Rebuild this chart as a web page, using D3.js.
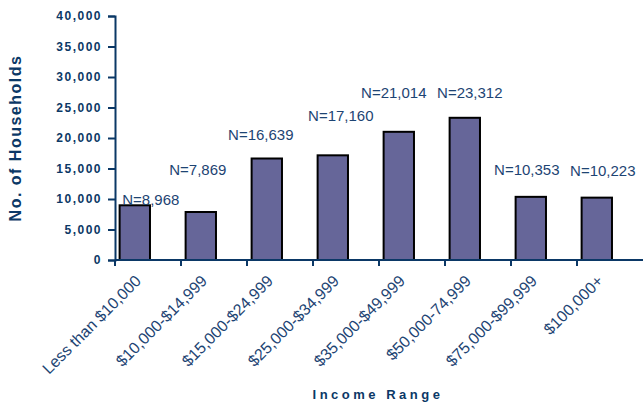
<!DOCTYPE html>
<html>
<head>
<meta charset="utf-8">
<script src="https://cdn.jsdelivr.net/npm/d3@7"></script>
<style>
  body { margin: 0; background: #fff; }
  text { font-family: Arial, "Liberation Sans", sans-serif; }
</style>
</head>
<body>
<svg id="chart" width="643" height="405"></svg>
<script>
// data
var incomeRanges = ["Less than $10,000", "$10,000-$14,999", "$15,000-$24,999", "$25,000-$34,999",
                    "$35,000-$49,999", "$50,000-74,999", "$75,000-$99,999", "$100,000+"];
var households = [8968, 7869, 16639, 17160, 21014, 23312, 10353, 10223];
var yTicks = [0, 5000, 10000, 15000, 20000, 25000, 30000, 35000, 40000];

// label nudges (px, from top centre of each bar) - they were placed by hand in the original
var labelDx = [16, -3, -6, 8, -5, 5, -4, 6];
var labelDy = [0, -37, -19, -34, -34, -20, -22, -22];

var navy = "#0b3866", labelCol = "#1d4473", barFill = "#666699";

var svg = d3.select("#chart");
// note: "top" is taken by window.top, so plot edges get their own names
var plotL = 115, plotR = 643, plotT = 16, plotB = 260;

var x = d3.scaleBand().domain(incomeRanges).range([plotL, plotR]).padding(0);
var y = d3.scaleLinear().domain([0, 40000]).range([plotB, plotT]);
var bw = x.bandwidth();

/*
    bars
*/
svg.selectAll("rect.bar")
    .data(households)
    .enter().append("rect")
    .attr("class", "bar")
    .attr("x", function(d, i){ return x(incomeRanges[i]) + bw * 0.07 })
    .attr("width", bw * 0.46)
    .attr("y", function(d){ return y(d) })
    .attr("height", function(d){ return y(0) - y(d) })
    .attr("fill", barFill)
    .attr("stroke", "#000")
    .attr("stroke-width", 2)

/*
    y axis
*/
var yAxis = svg.append("g")
    .attr("transform", "translate(" + plotL + ",0)")
    .call(d3.axisLeft(y).tickValues(yTicks).tickSize(7).tickFormat(d3.format(",")))
yAxis.select(".domain").attr("stroke", navy).attr("stroke-width", 2)
yAxis.selectAll(".tick line").attr("stroke", navy).attr("stroke-width", 2)
yAxis.selectAll(".tick text")
    .attr("x", -13)
    .attr("fill", navy)
    .style("font-size", "12px")
    .style("font-weight", "bold")
    .style("letter-spacing", "1.5px")

/*
    x axis - ticks sit on the band edges
*/
var xAxis = svg.append("g")
xAxis.append("line")
    .attr("x1", plotL).attr("x2", plotR)
    .attr("y1", y(0)).attr("y2", y(0))
    .attr("stroke", navy).attr("stroke-width", 2)
xAxis.selectAll("line.tk")
    .data(incomeRanges)
    .enter().append("line")
    .attr("class", "tk")
    .attr("x1", function(d){ return x(d) }).attr("x2", function(d){ return x(d) })
    .attr("y1", y(0)).attr("y2", y(0) + 6)
    .attr("stroke", navy).attr("stroke-width", 2)
xAxis.selectAll("text")
    .data(incomeRanges)
    .enter().append("text")
    .attr("transform", function(d){
        return "translate(" + (x(d) + bw * 0.41) + "," + (y(0) + 22) + ") rotate(-45)"
    })
    .attr("text-anchor", "end")
    .attr("fill", labelCol)
    .style("font-size", "16px")
    .text(function(d){ return d })

/*
    N= labels
*/
svg.selectAll("text.nlab")
    .data(households)
    .enter().append("text")
    .attr("class", "nlab")
    .attr("x", function(d, i){ return x(incomeRanges[i]) + bw * 0.3 + labelDx[i] })
    .attr("y", function(d, i){ return y(d) + labelDy[i] })
    .attr("text-anchor", "middle")
    .attr("fill", labelCol)
    .style("font-size", "15px")
    .text(function(d){ return "N=" + d3.format(",")(d) })

/*
    titles
*/
svg.append("text")
    .attr("transform", "translate(21,138) rotate(-90)")
    .attr("text-anchor", "middle")
    .attr("fill", navy)
    .style("font-size", "16px")
    .style("font-weight", "bold")
    .style("letter-spacing", "1.5px")
    .text("No. of Households")

svg.append("text")
    .attr("x", 378).attr("y", 399)
    .attr("text-anchor", "middle")
    .attr("fill", navy)
    .style("font-size", "13px")
    .style("font-weight", "bold")
    .style("letter-spacing", "3.5px")
    .text("Income Range")
</script>
</body>
</html>
